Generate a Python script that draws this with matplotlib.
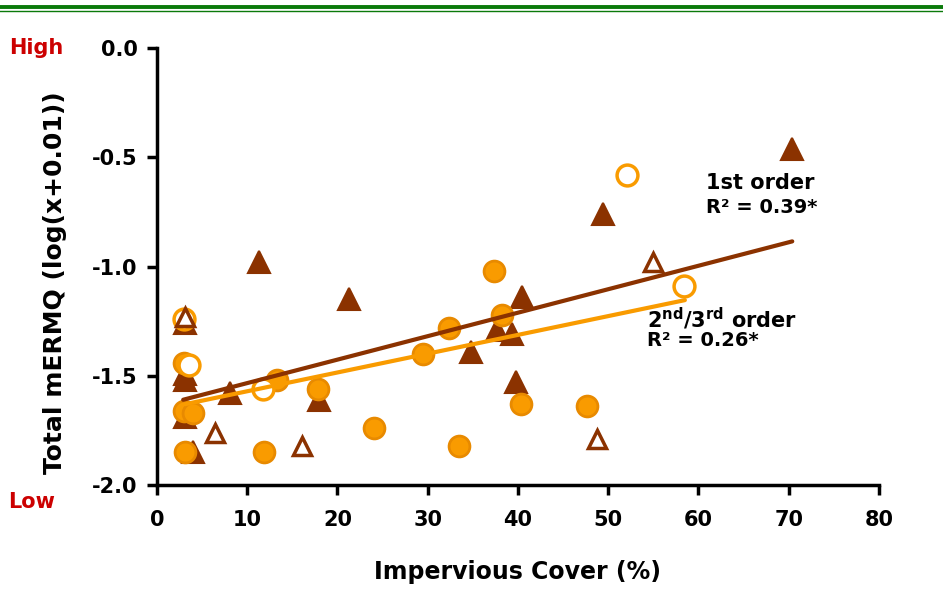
import matplotlib
matplotlib.use("Agg")
import matplotlib.pyplot as plt
from matplotlib.lines import Line2D
import numpy as np

plt.rcParams["font.family"] = ["DejaVu Sans"]
plt.rcParams["font.weight"] = "bold"
plt.rcParams["mathtext.default"] = "bf"

# 1st order streams - filled triangles
tri_fill_x = [70.4, 49.4, 11.3, 21.3, 40.5, 37.7, 39.3, 34.8, 39.8,
              3.1, 3.1, 3.1, 3.1, 4.0, 8.1, 17.9]
tri_fill_y = [-0.46, -0.76, -0.98, -1.15, -1.14, -1.29, -1.31, -1.39, -1.53,
              -1.26, -1.49, -1.52, -1.69, -1.85, -1.58, -1.61]

# 1st order streams - open triangles
tri_open_x = [6.4, 16.1, 48.8, 55.0, 3.1]
tri_open_y = [-1.76, -1.82, -1.79, -0.98, -1.23]

# 2nd/3rd order streams - filled circles
circ_fill_x = [3.0, 3.0, 4.0, 3.1, 11.9, 13.3, 17.8, 24.0, 29.5, 32.4,
               37.3, 38.2, 33.5, 40.3, 47.6]
circ_fill_y = [-1.44, -1.66, -1.67, -1.85, -1.85, -1.52, -1.56, -1.74, -1.40, -1.28,
               -1.02, -1.22, -1.82, -1.63, -1.64]

# 2nd/3rd order streams - open circles
circ_open_x = [3.0, 3.6, 11.7, 52.1, 58.4]
circ_open_y = [-1.24, -1.45, -1.56, -0.58, -1.09]

# regression lines (slope, intercept, x range)
fit_1st = (0.01074, -1.641)
fit_1st_x = [2.9, 70.4]
fit_23 = (0.0086, -1.657)
fit_23_x = [3.1, 58.5]

brown = "#8B3200"
orange = "#F99B00"
orange_edge = "#E88A00"
red = "#CC0000"

fig = plt.figure(figsize=(9.43, 6.16), dpi=100)
ax = fig.add_axes([0.1665, 0.2127, 0.7655, 0.7093])

ms = 15
ax.plot(tri_fill_x, tri_fill_y, "^", ms=ms + 1, color=brown, mec=brown, mew=1.5, ls="none", zorder=3)
ax.plot(circ_fill_x, circ_fill_y, "o", ms=ms, color=orange, mec=orange_edge, mew=2, ls="none", zorder=4)
ax.plot(circ_open_x, circ_open_y, "o", ms=ms, mfc="white", mec=orange, mew=2.5, ls="none", zorder=5)
ax.plot(tri_open_x, tri_open_y, "^", ms=ms - 2, mfc="white", mec=brown, mew=2.5, ls="none", zorder=6)

x1 = np.array(fit_1st_x)
ax.plot(x1, fit_1st[0] * x1 + fit_1st[1], color=brown, lw=3, zorder=7, solid_capstyle="round")
x2 = np.array(fit_23_x)
ax.plot(x2, fit_23[0] * x2 + fit_23[1], color=orange, lw=3, zorder=7, solid_capstyle="round")

ax.set_xlim(0, 80)
ax.set_ylim(-2.0, 0.0)
ax.set_xticks(np.arange(0, 81, 10))
ax.set_yticks([0.0, -0.5, -1.0, -1.5, -2.0])
ax.set_yticklabels(["0.0", "-0.5", "-1.0", "-1.5", "-2.0"])
for s in ["top", "right"]:
    ax.spines[s].set_visible(False)
for s in ["left", "bottom"]:
    ax.spines[s].set_linewidth(2.5)
ax.tick_params(axis="both", direction="out", length=7, width=2.5, labelsize=15)
ax.tick_params(axis="x", pad=11)
ax.tick_params(axis="y", pad=7)
for lbl in ax.get_xticklabels() + ax.get_yticklabels():
    lbl.set_fontweight("bold")

ax.set_xlabel("Impervious Cover (%)", fontsize=17, fontweight="bold")
ax.set_ylabel("Total mERMQ (log(x+0.01))", fontsize=18, fontweight="bold")
ax.xaxis.set_label_coords(0.5, -0.172)
ax.yaxis.set_label_coords(-0.1247, 0.462)

ax.text(60.8, -0.62, "1st order", fontsize=15, fontweight="bold", ha="left", va="center")
ax.text(60.8, -0.73, "R² = 0.39*", fontsize=14, fontweight="bold", ha="left", va="center")
ax.text(54.3, -1.24, r"2$^{nd}$/3$^{rd}$ order", fontsize=15, fontweight="bold", ha="left", va="center")
ax.text(54.3, -1.34, "R² = 0.26*", fontsize=14, fontweight="bold", ha="left", va="center")

fig.text(0.038, 1 - 48 / 616, "High", color=red, fontsize=15, fontweight="bold", ha="center", va="center")
fig.text(0.034, 1 - 502 / 616, "Low", color=red, fontsize=15, fontweight="bold", ha="center", va="center")

# green rules at top
fig.add_artist(Line2D([0, 1], [1 - 6.5 / 616, 1 - 6.5 / 616], color="#0A7A0A", lw=2.8))
fig.add_artist(Line2D([0, 1], [1 - 10.5 / 616, 1 - 10.5 / 616], color="#0A7A0A", lw=1.0))

fig.savefig("out.png", dpi=100)
